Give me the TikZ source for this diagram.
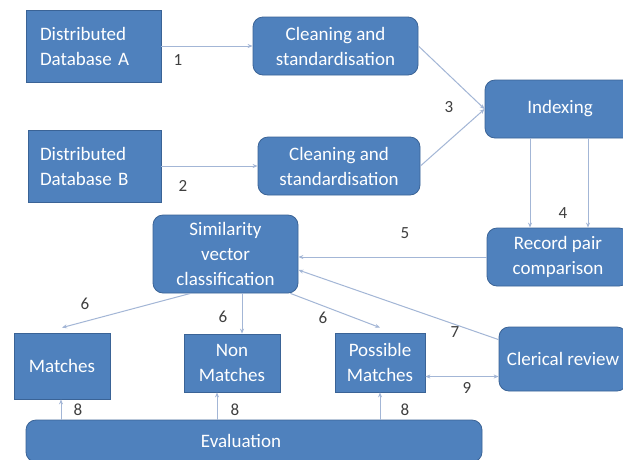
\documentclass[tikz,border=0pt]{standalone}
\usepackage{fontspec}
\setmainfont{Carlito}
\usepackage{tikz}
\usetikzlibrary{arrows.meta}

\definecolor{boxblue}{HTML}{4F81BD}
\definecolor{boxedge}{HTML}{3A6396}
\definecolor{linkblue}{HTML}{A3B6D6}
\definecolor{numgray}{HTML}{3F3F3F}

\tikzset{
  box/.style = {draw=boxedge, fill=boxblue, text=white, line width=0.8pt,
    font=\fontsize{19}{25}\selectfont, align=center, inner sep=0pt},
  rbox/.style = {box, rounded corners=10pt},
  num/.style = {text=numgray, font=\fontsize{17}{20}\selectfont},
  link/.style = {draw=linkblue, line width=1pt, -{Stealth[length=5pt,width=4pt]}}
}

\begin{document}
\begin{tikzpicture}[x=1pt, y=-1pt]
\useasboundingbox (0,0) rectangle (623,459);
\clip (0,0) rectangle (623,459);
\fill[white] (0,0) rectangle (623,459);

\node[box, minimum width=135pt, minimum height=72pt, text width=107pt, align=left] (dbA) at (93.5,46) {Distributed\\Database A};
\node[box, minimum width=133pt, minimum height=72pt, text width=109pt, align=left] (dbB) at (94.5,166) {Distributed\\Database B};
\node[rbox, minimum width=165pt, minimum height=58pt] (cleanA) at (335.5,46) {Cleaning and\\standardisation};
\node[rbox, minimum width=162pt, minimum height=58pt] (cleanB) at (339,166) {Cleaning and\\standardisation};
\node[rbox, minimum width=150pt, minimum height=58pt] (idx) at (560,109) {Indexing};
\node[rbox, minimum width=142pt, minimum height=58pt] (rec) at (558,257) {Record pair\\comparison};
\node[rbox, minimum width=145pt, minimum height=78pt] (sim) at (225.5,254) {Similarity\\vector\\classification};
\node[box, minimum width=96pt, minimum height=66pt] (mat) at (62,366) {Matches};
\node[box, minimum width=96pt, minimum height=58pt] (non) at (232,363) {Non\\Matches};
\node[box, minimum width=90pt, minimum height=59pt] (pos) at (380,362.5) {Possible\\Matches};
\node[rbox, minimum width=128pt, minimum height=64pt] (cler) at (563,359) {Clerical review};
\node[rbox, minimum width=456pt, minimum height=42pt] (eval) at (254,441) {\hspace*{-26pt}Evaluation};

\draw[link] (dbA.east) -- (cleanA.west);
\draw[link] (dbB.east) -- (cleanB.west);
\draw[link] (cleanA.east) -- (idx.west);
\draw[link] (cleanB.east) -- (idx.west);
\draw[link] ([xshift=-30pt]idx.south) -- ([xshift=-30pt]idx.south |- rec.north);
\draw[link] ([xshift=28pt]idx.south) -- ([xshift=28pt]idx.south |- rec.north);
\draw[link] (rec.west) -- (rec.west -| sim.east);
\draw[link] ([yshift=-13pt]cler.north west) -- ([yshift=-16pt]sim.east);
\draw[link] ([xshift=-35pt]sim.south) -- ([yshift=5pt]mat.north);
\draw[link] ([xshift=10pt]non.north |- sim.south) -- ([xshift=10pt]non.north);
\draw[link] ([xshift=-8pt]sim.south east) -- ([yshift=5pt]pos.north);
\draw[link, {Stealth[length=5pt,width=4pt]}-{Stealth[length=5pt,width=4pt]}] ([yshift=-14pt]pos.east) -- ([yshift=-14pt]pos.east -| cler.west);
\draw[link] ([xshift=-1pt]mat.south |- eval.north) -- ([xshift=-1pt]mat.south);
\draw[link] ([xshift=-15pt]non.south |- eval.north) -- ([xshift=-15pt]non.south);
\draw[link] (pos.south |- eval.north) -- (pos.south);

\node[num] (n1) at (178,60) {1};
\node[num] (n2) at (183,186) {2};
\node[num] (n3) at (449,107) {3};
\node[num] (n4) at (563,213) {4};
\node[num] (n5) at (405,233) {5};
\node[num] (n6a) at (85,304) {6};
\node[num] (n6b) at (223,317) {6};
\node[num] (n6c) at (323,318) {6};
\node[num] (n7) at (455,332) {7};
\node[num] (n8a) at (78,410) {8};
\node[num] (n8b) at (235,410) {8};
\node[num] (n8c) at (405,410) {8};
\node[num] (n9) at (467,388) {9};
\end{tikzpicture}
\end{document}
